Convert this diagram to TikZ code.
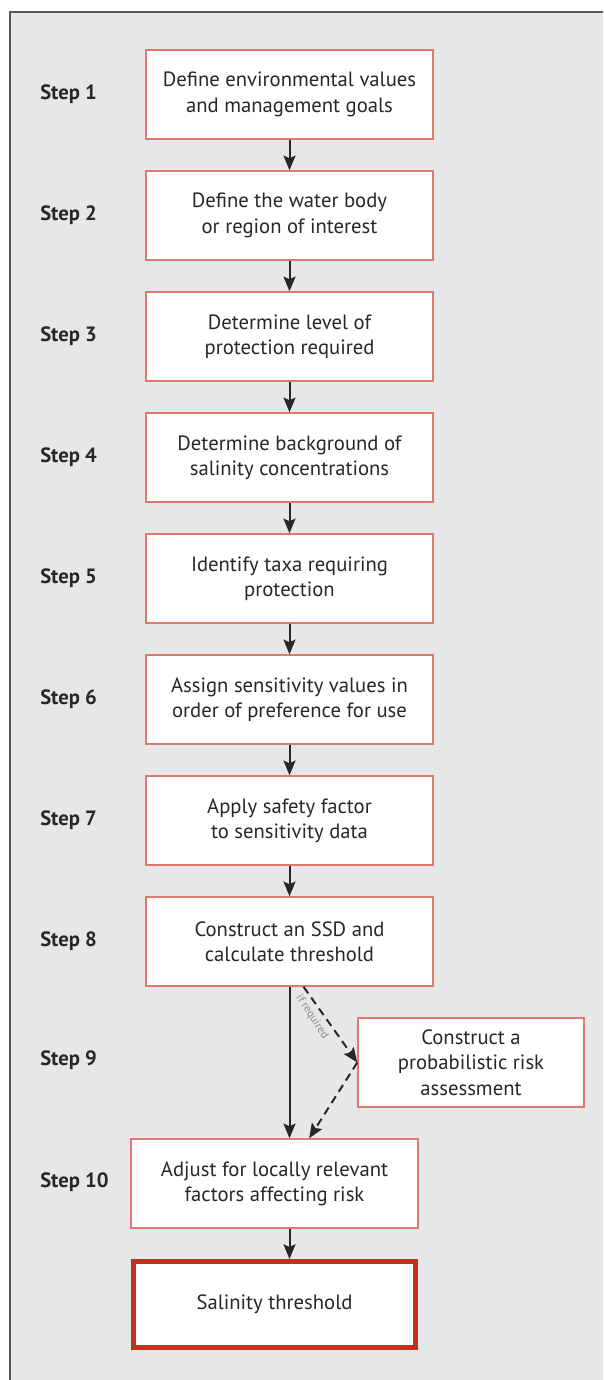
\documentclass[tikz,border=0pt]{standalone}
\usepackage{fontspec}
\setmainfont{PT Sans}
\usetikzlibrary{arrows.meta}
\definecolor{bg}{HTML}{E6E7E8}
\definecolor{frame}{HTML}{5A5A5A}
\definecolor{boxred}{HTML}{DE7A6C}
\definecolor{thickred}{HTML}{C0321E}
\definecolor{txt}{HTML}{2A2627}
\definecolor{lbl}{HTML}{8A8A8A}
\begin{document}
\begin{tikzpicture}[x=0.75pt,y=-0.75pt,
  box/.style={draw=boxred, line width=1.1pt, fill=white, minimum width=215.25pt,
    minimum height=66.75pt, align=center, inner sep=0pt, text=txt,
    font=\fontsize{15.5}{19}\selectfont},
  stepname/.style={anchor=west, text=txt, inner sep=0pt,
    font=\bfseries\fontsize{15.5}{18}\selectfont},
  flow/.style={line width=1.5pt, draw=txt, -{Stealth[length=11pt,width=9pt,inset=2pt]}},
  optflow/.style={flow, dash pattern=on 6pt off 4pt}]
\useasboundingbox (0,0) rectangle (603,1380);
\fill[bg] (10,12) rectangle (603,1380);
\draw[frame, line width=1.1pt] (10,1380) -- (10,12) -- (603,12);

\node[box] (b1) at (289.5,94.5) {Define environmental values\\and management goals};
\node[box] (b2) at (289.5,215.5) {Define the water body\\or region of interest};
\node[box] (b3) at (289.5,336.5) {Determine level of\\protection required};
\node[box] (b4) at (289.5,457.5) {Determine background of\\salinity concentrations};
\node[box] (b5) at (289.5,578.5) {Identify taxa requiring\\protection};
\node[box] (b6) at (289.5,699.5) {Assign sensitivity values in\\order of preference for use};
\node[box] (b7) at (289.5,820.5) {Apply safety factor\\to sensitivity data};
\node[box] (b8) at (289.5,941.5) {Construct an SSD and\\calculate threshold};
\node[box, minimum width=169.5pt] (b9) at (471,1062.5) {Construct a\\probabilistic risk\\assessment};
\node[box] (b10) at (274.5,1183.5) {Adjust for locally relevant\\factors affecting risk};
\node[box, draw=thickred, line width=3.75pt, minimum width=211.5pt, minimum height=64.5pt] (b11) at (274.5,1304.5) {Salinity threshold};

\node[stepname] (s1) at (40,94.5) {Step 1};
\node[stepname] (s2) at (40,215.5) {Step 2};
\node[stepname] (s3) at (40,336.5) {Step 3};
\node[stepname] (s4) at (40,457.5) {Step 4};
\node[stepname] (s5) at (40,578.5) {Step 5};
\node[stepname] (s6) at (40,699.5) {Step 6};
\node[stepname] (s7) at (40,820.5) {Step 7};
\node[stepname] (s8) at (40,941.5) {Step 8};
\node[stepname] (s9) at (40,1060) {Step 9};
\node[stepname] (s10) at (40,1182) {Step 10};

\draw[flow] (b1) -- (b2);
\draw[flow] (b2) -- (b3);
\draw[flow] (b3) -- (b4);
\draw[flow] (b4) -- (b5);
\draw[flow] (b5) -- (b6);
\draw[flow] (b6) -- (b7);
\draw[flow] (b7) -- (b8);
\draw[flow] (b8.south) -- (b8.south |- b10.north);
\draw[optflow] ([xshift=10.5pt]b8.south) -- (b9.west);
\draw[optflow] (b9.west) -- ([xshift=26pt]b10.north);
\draw[flow] (b1.south |- b10.south) -- (b1.south |- b11.north);

\node[text=lbl, font=\fontsize{8.5}{10}\selectfont, rotate=-57, inner sep=0pt] (ifreq) at (312,1017) {if required};
\end{tikzpicture}
\end{document}
